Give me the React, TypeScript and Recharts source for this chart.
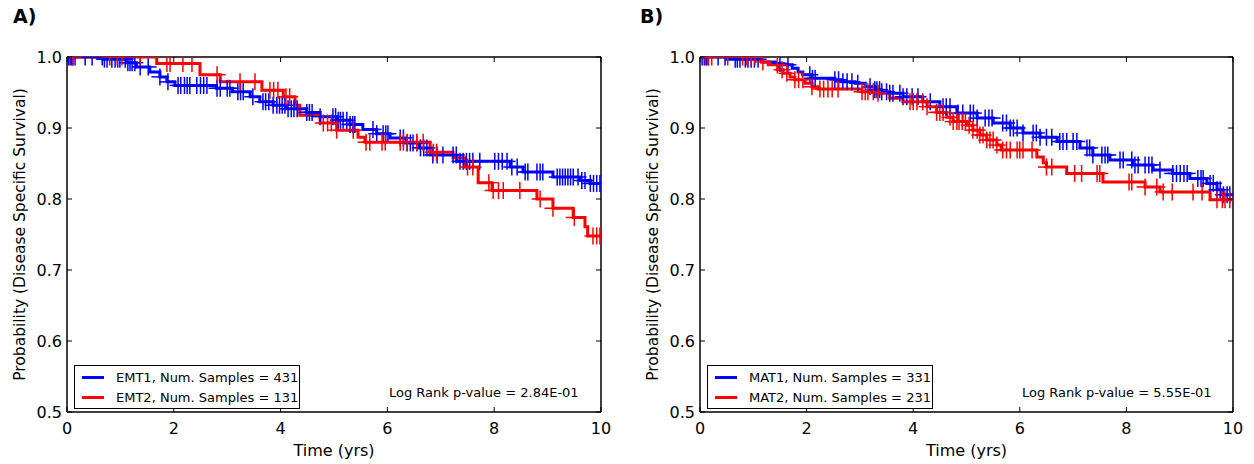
import React from 'react';
import { ComposedChart, Line, Scatter, XAxis, YAxis, ReferenceLine } from 'recharts';

const xTicks = [0, 2, 4, 6, 8, 10];
const yTicks = [0.5, 0.6, 0.7, 0.8, 0.9, 1.0];

// Panel A: EMT1 (blue) / EMT2 (red)
const emt1Time = [0, 0.67, 1.12, 1.3, 1.55, 1.74, 1.87, 2.02, 2.8, 3.1, 3.43, 3.61, 3.86, 4.1, 4.49, 4.74, 5.05, 5.3, 5.54, 5.8, 6.05, 6.35, 6.6, 6.8, 7.3, 8.3, 8.54, 9.1, 9.6, 9.8, 10];
const emt1Surv = [1.0, 0.997, 0.992, 0.986, 0.979, 0.972, 0.965, 0.96, 0.956, 0.951, 0.944, 0.937, 0.932, 0.927, 0.922, 0.916, 0.911, 0.905, 0.898, 0.892, 0.886, 0.879, 0.872, 0.862, 0.853, 0.845, 0.838, 0.831, 0.826, 0.822, 0.822];
const emt1Censor = [0.03, 0.06, 0.09, 0.11, 0.15, 0.34, 0.47, 0.66, 0.7, 0.75, 0.84, 0.9, 0.95, 0.99, 1.09, 1.14, 1.18, 1.22, 1.27, 1.37, 1.52, 1.74, 1.89, 2.08, 2.13, 2.2, 2.25, 2.3, 2.43, 2.5, 2.56, 2.62, 2.81, 2.87, 3.0, 3.05, 3.2, 3.25, 3.3, 3.48, 3.67, 3.72, 3.78, 3.86, 3.93, 3.98, 4.03, 4.08, 4.14, 4.2, 4.25, 4.31, 4.49, 4.54, 4.59, 4.74, 4.98, 5.03, 5.08, 5.12, 5.17, 5.24, 5.3, 5.35, 5.39, 5.73, 5.8, 5.92, 5.97, 6.01, 6.24, 6.3, 6.37, 6.43, 6.48, 6.55, 6.62, 6.68, 6.74, 6.85, 6.93, 7.04, 7.23, 7.29, 7.36, 7.42, 7.48, 7.54, 7.6, 7.73, 8.01, 8.08, 8.15, 8.24, 8.33, 8.43, 8.58, 8.63, 8.8, 8.86, 8.91, 9.18, 9.23, 9.28, 9.33, 9.38, 9.43, 9.48, 9.57, 9.64, 9.7, 9.8, 9.86, 9.92, 9.98];

const emt2Time = [0, 1.68, 2.49, 2.87, 3.65, 4.05, 4.27, 4.36, 4.74, 5.05, 5.45, 5.58, 6.8, 7.23, 7.45, 7.7, 7.96, 8.8, 9.1, 9.48, 9.7, 9.75, 10];
const emt2Surv = [1.0, 0.991, 0.975, 0.965, 0.953, 0.944, 0.932, 0.918, 0.907, 0.897, 0.887, 0.88, 0.866, 0.858, 0.845, 0.823, 0.812, 0.8, 0.787, 0.774, 0.761, 0.748, 0.748];
const emt2Censor = [0.11, 0.8, 0.94, 1.03, 1.37, 1.87, 1.93, 2.17, 2.34, 2.81, 3.24, 3.52, 3.8, 3.87, 3.95, 4.1, 4.17, 4.8, 4.88, 4.95, 5.05, 5.36, 5.6, 5.67, 5.9, 5.96, 6.24, 6.3, 6.37, 6.55, 6.67, 6.86, 6.92, 7.5, 7.6, 7.9, 7.98, 8.08, 8.17, 8.48, 8.86, 9.1, 9.5, 9.85, 9.92, 9.98];

// Panel B: MAT1 (blue) / MAT2 (red)
const mat1Time = [0, 0.5, 1.16, 1.41, 1.56, 1.73, 1.84, 1.93, 2.1, 2.53, 2.66, 2.91, 3.1, 3.28, 3.4, 3.56, 3.81, 4.18, 4.5, 4.82, 5.2, 5.5, 5.82, 6.06, 6.38, 6.7, 7.13, 7.37, 7.69, 8.12, 8.5, 8.87, 9.19, 9.51, 9.7, 9.81, 10];
const mat1Surv = [1.0, 0.997, 0.993, 0.991, 0.989, 0.984, 0.979, 0.975, 0.97, 0.968, 0.965, 0.963, 0.958, 0.954, 0.951, 0.949, 0.944, 0.937, 0.93, 0.921, 0.914, 0.907, 0.9, 0.893, 0.887, 0.881, 0.872, 0.862, 0.855, 0.848, 0.841, 0.836, 0.829, 0.822, 0.813, 0.806, 0.806];
const mat1Censor = [0.04, 0.08, 0.12, 0.15, 0.34, 0.47, 0.66, 0.7, 0.75, 0.85, 0.9, 0.96, 1.02, 1.09, 1.5, 1.65, 2.06, 2.11, 2.16, 2.53, 2.6, 2.68, 2.76, 2.85, 2.96, 3.19, 3.28, 3.32, 3.37, 3.41, 3.5, 3.56, 3.62, 3.75, 3.81, 3.88, 3.98, 4.09, 4.32, 4.56, 4.62, 4.69, 4.84, 4.93, 5.07, 5.13, 5.2, 5.35, 5.42, 5.48, 5.68, 5.75, 5.82, 5.88, 5.95, 6.06, 6.25, 6.31, 6.38, 6.5, 6.6, 6.75, 6.81, 6.88, 7.0, 7.07, 7.26, 7.31, 7.37, 7.54, 7.6, 7.65, 7.88, 7.94, 8.1, 8.16, 8.22, 8.35, 8.42, 8.48, 8.63, 8.87, 8.94, 9.01, 9.08, 9.14, 9.34, 9.4, 9.44, 9.57, 9.63, 9.7, 9.76, 9.82, 9.89, 9.94];

const mat2Time = [0, 1.16, 1.28, 1.46, 1.56, 1.69, 1.78, 1.97, 2.1, 2.21, 3.04, 3.28, 3.56, 3.81, 4.26, 4.44, 4.63, 4.75, 5.01, 5.12, 5.25, 5.38, 5.57, 5.65, 6.32, 6.44, 6.5, 6.88, 7.56, 8.35, 8.63, 9.57, 10];
const mat2Surv = [1.0, 0.993, 0.989, 0.982, 0.977, 0.972, 0.968, 0.963, 0.958, 0.955, 0.951, 0.949, 0.942, 0.937, 0.93, 0.922, 0.915, 0.909, 0.904, 0.897, 0.89, 0.883, 0.876, 0.869, 0.859, 0.851, 0.845, 0.836, 0.824, 0.817, 0.81, 0.799, 0.799];
const mat2Censor = [0.1, 0.16, 0.22, 0.52, 0.8, 0.88, 0.96, 1.03, 1.18, 1.45, 1.54, 1.63, 1.78, 1.85, 1.93, 2.1, 2.25, 2.32, 2.4, 2.48, 2.59, 3.04, 3.1, 3.15, 3.25, 3.34, 3.94, 4.0, 4.07, 4.18, 4.26, 4.44, 4.5, 4.56, 4.69, 4.75, 4.82, 4.86, 4.92, 4.98, 5.05, 5.12, 5.2, 5.25, 5.31, 5.38, 5.44, 5.5, 5.57, 5.68, 5.75, 5.82, 5.95, 6.0, 6.06, 6.23, 6.5, 6.6, 7.03, 7.16, 7.45, 7.5, 8.05, 8.1, 8.35, 8.57, 8.69, 8.86, 9.25, 9.42, 9.7, 9.8, 9.85, 9.94];

const FONT = '"DejaVu Sans", sans-serif';
const W = 627;
const H = 464;
const TOP = 57;
const BOTTOM = 412;
const YW = 60;

const steps = (time: number[], surv: number[]) => time.map((t, i) => ({ t, s: surv[i] }));

const censorPts = (time: number[], surv: number[], censor: number[]) =>
  censor.map((c) => {
    let i = 0;
    while (i + 1 < time.length && time[i + 1] <= c) i++;
    return { t: c, s: surv[i] };
  });

const cross = (color: string) => (props: any) => {
  const { cx, cy } = props;
  return (
    <g stroke={color} strokeWidth={1.5}>
      <line x1={cx} x2={cx} y1={cy - 8.5} y2={cy + 8.5} />
      <line x1={cx - 8.5} x2={cx + 8.5} y1={cy} y2={cy} />
    </g>
  );
};

interface Curve {
  name: string;
  color: string;
  time: number[];
  surv: number[];
  censor: number[];
}

interface PanelProps {
  tag: string;
  left: number;
  ml: number;
  mr: number;
  curves: Curve[];
  pText: string;
}

const Panel = ({ tag, left, ml, mr, curves, pText }: PanelProps) => {
  const plotL = ml + YW;
  const plotR = W - mr;

  const XTick = (p: any) => (
    <g>
      <line x1={p.x} x2={p.x} y1={BOTTOM} y2={BOTTOM - 5} stroke="#000" strokeWidth={1} />
      <line x1={p.x} x2={p.x} y1={TOP} y2={TOP + 5} stroke="#000" strokeWidth={1} />
      <text x={p.x} y={BOTTOM + 22} textAnchor="middle" fontSize={16} fontFamily={FONT} fill="#000">
        {p.payload.value}
      </text>
    </g>
  );

  const YTick = (p: any) => (
    <g>
      <line x1={plotL} x2={plotL + 5} y1={p.y} y2={p.y} stroke="#000" strokeWidth={1} />
      <line x1={plotR} x2={plotR - 5} y1={p.y} y2={p.y} stroke="#000" strokeWidth={1} />
      <text x={plotL - 5} y={p.y} textAnchor="end" dominantBaseline="central" fontSize={16} fontFamily={FONT} fill="#000">
        {Number(p.payload.value).toFixed(1)}
      </text>
    </g>
  );

  const yLabX = ml + 13;
  const yLabY = (TOP + BOTTOM) / 2;

  return (
    <div style={{ position: 'absolute', left, top: 0, width: W, height: H }}>
      <div style={{ position: 'absolute', left: 13, top: 5, fontFamily: FONT, fontWeight: 'bold', fontSize: 19 }}>{tag}</div>
      <ComposedChart width={W} height={H} margin={{ top: TOP, right: mr, bottom: 22, left: ml }}>
        <XAxis
          type="number"
          dataKey="t"
          domain={[0, 10]}
          ticks={xTicks}
          height={30}
          tickLine={false}
          axisLine={{ stroke: '#000', strokeWidth: 1.5 }}
          tick={XTick}
          allowDataOverflow
          label={{
            content: () => (
              <text x={(plotL + plotR) / 2} y={456} textAnchor="middle" fontSize={16} fontFamily={FONT} fill="#000">
                Time (yrs)
              </text>
            ),
          }}
        />
        <YAxis
          type="number"
          domain={[0.5, 1.0]}
          ticks={yTicks}
          width={YW}
          tickLine={false}
          axisLine={{ stroke: '#000', strokeWidth: 1.5 }}
          tick={YTick}
          allowDataOverflow
          label={{
            content: () => (
              <text
                x={yLabX}
                y={yLabY}
                transform={`rotate(-90 ${yLabX} ${yLabY})`}
                textAnchor="middle"
                dominantBaseline="central"
                fontSize={15.5}
                fontFamily={FONT}
                fill="#000"
              >
                Probability (Disease Specific Survival)
              </text>
            ),
          }}
        />
        <ReferenceLine y={1.0} stroke="#000" strokeWidth={1.5} />
        <ReferenceLine x={10} stroke="#000" strokeWidth={1.5} />
        {curves.map((c) => [
          <Line
            key={c.name + 'l'}
            data={steps(c.time, c.surv)}
            dataKey="s"
            type="stepAfter"
            stroke={c.color}
            strokeWidth={3}
            dot={false}
            isAnimationActive={false}
          />,
          <Scatter
            key={c.name + 's'}
            data={censorPts(c.time, c.surv, c.censor)}
            dataKey="s"
            shape={cross(c.color)}
            legendType="none"
            isAnimationActive={false}
          />,
        ])}
      </ComposedChart>
      <div
        style={{
          position: 'absolute',
          left: plotL + 7,
          top: 365,
          border: '1.5px solid #000',
          width: 226,
          height: 44,
          boxSizing: 'border-box',
          background: '#fff',
          fontFamily: FONT,
          fontSize: 13,
          padding: '2px 0 0 7px',
          whiteSpace: 'nowrap',
        }}
      >
        {curves.map((c) => (
          <div key={c.name} style={{ display: 'flex', alignItems: 'center', height: 19.5 }}>
            <span style={{ display: 'inline-block', width: 22, height: 3, background: c.color, marginRight: 12 }} />
            <span>{c.name}</span>
          </div>
        ))}
      </div>
      <div
        style={{ position: 'absolute', left: plotL + 322, top: 385, fontFamily: FONT, fontSize: 13, whiteSpace: 'nowrap' }}
      >
        {pText}
      </div>
    </div>
  );
}

export default function App() {
  return (
    <div style={{ position: 'absolute', left: 0, top: 0, width: 1254, height: 464, background: '#fff' }}>
      <Panel
        tag="A)"
        left={0}
        ml={7}
        mr={26}
        pText="Log Rank p-value = 2.84E-01"
        curves={[
          { name: 'EMT1, Num. Samples = 431', color: '#0000ff', time: emt1Time, surv: emt1Surv, censor: emt1Censor },
          { name: 'EMT2, Num. Samples = 131', color: '#ff0000', time: emt2Time, surv: emt2Surv, censor: emt2Censor },
        ]}
      />
      <Panel
        tag="B)"
        left={627}
        ml={13}
        mr={21}
        pText="Log Rank p-value = 5.55E-01"
        curves={[
          { name: 'MAT1, Num. Samples = 331', color: '#0000ff', time: mat1Time, surv: mat1Surv, censor: mat1Censor },
          { name: 'MAT2, Num. Samples = 231', color: '#ff0000', time: mat2Time, surv: mat2Surv, censor: mat2Censor },
        ]}
      />
    </div>
  );
}
